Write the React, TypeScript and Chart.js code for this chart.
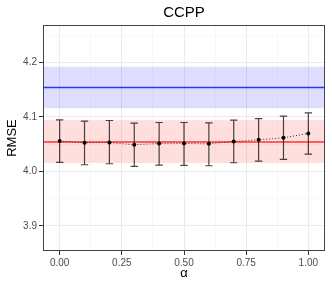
import React, { useEffect, useRef } from "react";
import { Chart, registerables } from "chart.js";

Chart.register(...registerables);

const alphas = [0, 0.1, 0.2, 0.3, 0.4, 0.5, 0.6, 0.7, 0.8, 0.9, 1.0];
const rmse = [4.0556, 4.0525, 4.053, 4.0489, 4.0513, 4.0513, 4.0507, 4.055, 4.058, 4.0616, 4.0697];
const rmseUpper = [4.0945, 4.0921, 4.0934, 4.0885, 4.0897, 4.0897, 4.089, 4.094, 4.097, 4.1013, 4.1073];
const rmseLower = [4.0166, 4.0122, 4.0141, 4.0093, 4.0117, 4.0111, 4.0104, 4.0159, 4.019, 4.0221, 4.0318];

const blueRef = [4.154];
const blueBand = [4.116, 4.192];
const redRef = [4.054];
const redBand = [4.0154, 4.094];

const xTicks = [0, 0.125, 0.25, 0.375, 0.5, 0.625, 0.75, 0.875, 1.0];
const yTicks = [3.9, 3.95, 4.0, 4.05, 4.1, 4.15, 4.2, 4.25];

const FONT = "'Liberation Sans', Arial, Helvetica, sans-serif";

const isMajor = (v: number, step: number) => Math.abs(v / step - Math.round(v / step)) < 1e-6;

const overlayPlugin = {
  id: "overlay",
  beforeDatasetsDraw(chart: any) {
    const { ctx, chartArea, scales } = chart;
    const y = scales.y;
    const x = scales.x;
    ctx.save();
    ctx.beginPath();
    ctx.rect(chartArea.left, chartArea.top, chartArea.right - chartArea.left, chartArea.bottom - chartArea.top);
    ctx.clip();
    const band = (lo: number, hi: number, color: string) => {
      const y1 = y.getPixelForValue(hi);
      const y2 = y.getPixelForValue(lo);
      ctx.fillStyle = color;
      ctx.fillRect(chartArea.left, y1, chartArea.right - chartArea.left, y2 - y1);
    };
    const hline = (v: number, color: string) => {
      const py = y.getPixelForValue(v);
      ctx.strokeStyle = color;
      ctx.lineWidth = 1.6;
      ctx.beginPath();
      ctx.moveTo(chartArea.left, py);
      ctx.lineTo(chartArea.right, py);
      ctx.stroke();
    };
    band(blueBand[0], blueBand[1], "rgba(0,0,255,0.13)");
    band(redBand[0], redBand[1], "rgba(255,0,0,0.13)");
    hline(blueRef[0], "#3333F5");
    hline(redRef[0], "#FF3333");
    // error bars
    ctx.strokeStyle = "rgba(0,0,0,0.72)";
    ctx.lineWidth = 1.2;
    const cap = 3.7;
    alphas.forEach((a, i) => {
      const px = x.getPixelForValue(a);
      const pt = y.getPixelForValue(rmseUpper[i]);
      const pb = y.getPixelForValue(rmseLower[i]);
      ctx.beginPath();
      ctx.moveTo(px, pt);
      ctx.lineTo(px, pb);
      ctx.moveTo(px - cap, pt);
      ctx.lineTo(px + cap, pt);
      ctx.moveTo(px - cap, pb);
      ctx.lineTo(px + cap, pb);
      ctx.stroke();
    });
    ctx.restore();
  },
  afterDraw(chart: any) {
    const { ctx, chartArea } = chart;
    ctx.save();
    ctx.strokeStyle = "#444444";
    ctx.lineWidth = 1;
    ctx.strokeRect(
      Math.round(chartArea.left) + 0.5,
      Math.round(chartArea.top) + 0.5,
      Math.round(chartArea.right - chartArea.left) - 1,
      Math.round(chartArea.bottom - chartArea.top) - 1
    );
    ctx.restore();
  },
};

export default function App() {
  const ref = useRef<HTMLCanvasElement | null>(null);
  useEffect(() => {
    document.body.style.margin = "0";
    const canvas = ref.current;
    if (!canvas) return;
    const chart = new Chart(canvas, {
      type: "scatter",
      data: {
        datasets: [
          {
            data: alphas.map((a, i) => ({ x: a, y: rmse[i] })),
            showLine: true,
            borderColor: "rgba(0,0,0,0.8)",
            borderWidth: 1,
            borderDash: [1, 2],
            pointRadius: 2,
            pointBackgroundColor: "#000000",
            pointBorderWidth: 0,
            backgroundColor: "#000000",
          },
        ],
      },
      options: {
        animation: false,
        responsive: false,
        events: [],
        layout: { padding: { left: 0, right: 7, top: 0, bottom: 0 } },
        plugins: {
          legend: { display: false },
          tooltip: { enabled: false },
          title: {
            display: true,
            text: "CCPP",
            fullSize: false,
            color: "#000000",
            font: { family: FONT, size: 15, weight: "normal", lineHeight: 1.2 },
            padding: { top: 4, bottom: 3 },
          },
        },
        scales: {
          x: {
            type: "linear",
            min: -0.067,
            max: 1.067,
            afterBuildTicks: (scale: any) => {
              scale.ticks = xTicks.map((v) => ({ value: v }));
            },
            afterFit: (scale: any) => {
              scale.height = 34;
            },
            border: { display: false },
            grid: {
              color: (c: any) => (isMajor(c.tick?.value ?? 0, 0.25) ? "#EBEBEB" : "#F4F4F4"),
              lineWidth: (c: any) => (isMajor(c.tick?.value ?? 0, 0.25) ? 1 : 0.6),
              tickColor: (c: any) => (isMajor(c.tick?.value ?? 0, 0.25) ? "#333333" : "rgba(0,0,0,0)"),
              tickLength: 4,
              tickWidth: 1,
            },
            ticks: {
              autoSkip: false,
              maxRotation: 0,
              padding: 2,
              color: "#4D4D4D",
              font: { family: FONT, size: 10 },
              callback: (v: any) => (isMajor(Number(v), 0.25) ? Number(v).toFixed(2) : ""),
            },
            title: {
              display: true,
              text: "α",
              color: "#000000",
              font: { family: FONT, size: 13 },
              padding: { top: 0, bottom: 4 },
            },
          },
          y: {
            type: "linear",
            min: 3.854,
            max: 4.2686,
            afterBuildTicks: (scale: any) => {
              scale.ticks = yTicks.map((v) => ({ value: v }));
            },
            afterFit: (scale: any) => {
              scale.width = 43;
            },
            border: { display: false },
            grid: {
              color: (c: any) => (isMajor(c.tick?.value ?? 0, 0.1) ? "#EBEBEB" : "#F4F4F4"),
              lineWidth: (c: any) => (isMajor(c.tick?.value ?? 0, 0.1) ? 1 : 0.6),
              tickColor: (c: any) => (isMajor(c.tick?.value ?? 0, 0.1) ? "#333333" : "rgba(0,0,0,0)"),
              tickLength: 4,
              tickWidth: 1,
            },
            ticks: {
              autoSkip: false,
              padding: 2,
              color: "#4D4D4D",
              font: { family: FONT, size: 10 },
              callback: (v: any) => (isMajor(Number(v), 0.1) ? Number(v).toFixed(1) : ""),
            },
            title: {
              display: true,
              text: "RMSE",
              color: "#000000",
              font: { family: FONT, size: 13 },
              padding: { top: 4.5, bottom: 0 },
            },
          },
        },
      },
      plugins: [overlayPlugin],
    } as any);
    return () => chart.destroy();
  }, []);
  return (
    <div style={{ width: 332, height: 285 }}>
      <canvas ref={ref} width={332} height={285} style={{ display: "block" }} />
    </div>
  );
}
